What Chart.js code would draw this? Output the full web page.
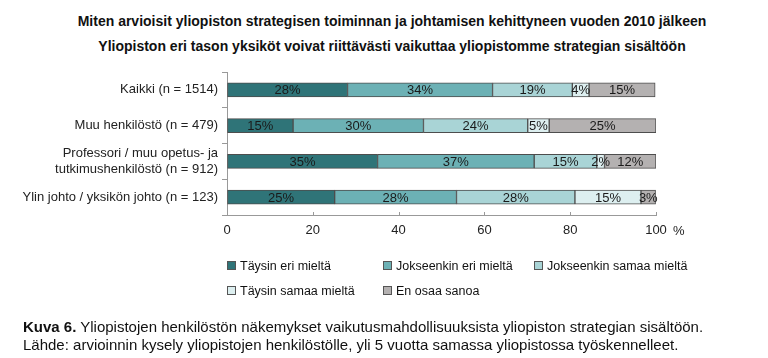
<!DOCTYPE html>
<html>
<head>
<meta charset="utf-8">
<script src="https://cdn.jsdelivr.net/npm/chart.js@4.4.0/dist/chart.umd.min.js"></script>
<style>
  body { margin: 0; background: #fff; }
  #wrap { position: relative; width: 768px; height: 358px; overflow: hidden; font-family: "Liberation Sans", Arial, sans-serif; color: #111; }
  #chart { position: absolute; left: 0; top: 0; }
  .title { position: absolute; left: 0; width: 784px; text-align: center; font-family: "Liberation Sans Narrow", "Liberation Sans", sans-serif; font-weight: bold; font-size: 14px; white-space: nowrap; }
  .caption { position: absolute; left: 23px; font-size: 15px; line-height: 17px; white-space: nowrap; }
  #legend { position: absolute; left: 227px; top: 259px; font-family: "Liberation Sans Narrow", "Liberation Sans", sans-serif; font-size: 12.5px; }
  .item { position: absolute; white-space: nowrap; line-height: 14px; }
  .box { display: inline-block; width: 7px; height: 7px; border: 1px solid #555; margin-right: 4px; vertical-align: 0px; }
</style>
</head>
<body>
<div id="wrap">
  <div class="title" style="top:13px">Miten arvioisit yliopiston strategisen toiminnan ja johtamisen kehittyneen vuoden 2010 jälkeen</div>
  <div class="title" style="top:38px">Yliopiston eri tason yksiköt voivat riittävästi vaikuttaa yliopistomme strategian sisältöön</div>
  <canvas id="chart" width="768" height="358"></canvas>
  <div id="legend"></div>
  <div class="caption" style="top:318px"><b>Kuva 6.</b> Yliopistojen henkilöstön näkemykset vaikutusmahdollisuuksista yliopiston strategian sisältöön.</div>
  <div class="caption" style="top:336px">Lähde: arvioinnin kysely yliopistojen henkilöstölle, yli 5 vuotta samassa yliopistossa työskennelleet.</div>
</div>
<script>
const groups = [
  'Kaikki (n = 1514)',
  'Muu henkilöstö (n = 479)',
  ['Professori / muu opetus- ja', 'tutkimushenkilöstö (n = 912)'],
  'Ylin johto / yksikön johto (n = 123)'
];
const answers = ['Täysin eri mieltä', 'Jokseenkin eri mieltä', 'Jokseenkin samaa mieltä', 'Täysin samaa mieltä', 'En osaa sanoa'];
const colors = ['#2f7478', '#6cb1b5', '#a9d4d6', '#ddeff0', '#b4b1b1'];

// percentages per answer, one value per group (labels are rounded)
const taysinEri = [28.1, 15.4, 35.1, 25.1];
const jokseenkinEri = [33.8, 30.4, 36.5, 28.4];
const jokseenkinSamaa = [18.6, 24.3, 14.6, 27.6];
const taysinSamaa = [3.9, 5.0, 1.8, 15.4];
const enOsaa = [15.4, 24.9, 12.0, 3.4];
const xTicks = [0, 20, 40, 60, 80, 100];

const series = [taysinEri, jokseenkinEri, jokseenkinSamaa, taysinSamaa, enOsaa];
const FONT = '"Liberation Sans", Arial, sans-serif';

const barLabels = {
  id: 'barLabels',
  afterDatasetsDraw(chart) {
    const ctx = chart.ctx;
    ctx.save();
    ctx.font = '13px ' + FONT;
    ctx.fillStyle = '#1a1a1a';
    ctx.textAlign = 'center';
    ctx.textBaseline = 'middle';
    chart.data.datasets.forEach((ds, i) => {
      chart.getDatasetMeta(i).data.forEach((bar, j) => {
        const x = (bar.x + bar.base) / 2;
        ctx.fillText(Math.round(ds.data[j]) + '%', x, bar.y + 1);
      });
    });
    // inward ticks on x axis and the % unit
    const xs = chart.scales.x;
    const bottom = chart.chartArea.bottom;
    ctx.strokeStyle = '#999';
    ctx.lineWidth = 1;
    xTicks.forEach(v => {
      const px = Math.round(xs.getPixelForValue(v)) + 0.5;
      ctx.beginPath();
      ctx.moveTo(px, bottom + 1);
      ctx.lineTo(px, bottom - 3);
      ctx.stroke();
    });
    ctx.textAlign = 'left';
    ctx.fillStyle = '#222';
    ctx.fillText('%', xs.getPixelForValue(100) + 17, bottom + 16);
    ctx.restore();
  }
};

const chart = new Chart(document.getElementById('chart'), {
  type: 'bar',
  data: {
    labels: groups,
    datasets: answers.map((a, i) => ({
      label: a,
      data: series[i],
      backgroundColor: colors[i],
      borderColor: '#4d4d4d',
      borderWidth: 1,
      borderSkipped: false,
      barThickness: 14
    }))
  },
  options: {
    indexAxis: 'y',
    responsive: false,
    animation: false,
    layout: { padding: { left: 0, right: 112, top: 72, bottom: 113 } },
    plugins: { legend: { display: false }, tooltip: { enabled: false } },
    scales: {
      x: {
        stacked: true,
        min: 0,
        max: 100,
        afterBuildTicks: s => { s.ticks = xTicks.map(v => ({ value: v })); },
        afterFit: s => { s.height = 30; },
        grid: { drawOnChartArea: false, drawTicks: false },
        border: { color: '#999' },
        ticks: { color: '#222', padding: 8, font: { size: 13, family: FONT } }
      },
      y: {
        stacked: true,
        afterFit: s => { s.width = 227; },
        grid: { drawOnChartArea: false, offset: true, tickLength: 5, color: '#999' },
        border: { color: '#999' },
        ticks: { color: '#222', padding: 4, font: { size: 13, family: FONT, lineHeight: 1.2 } }
      }
    }
  },
  plugins: [barLabels]
});

// legend built from the chart's datasets
const pos = [[0, 0], [156, 0], [307, 0], [0, 25], [156, 25]];
const legend = document.getElementById('legend');
chart.data.datasets.forEach((ds, i) => {
  const el = document.createElement('div');
  el.className = 'item';
  el.style.left = pos[i][0] + 'px';
  el.style.top = pos[i][1] + 'px';
  el.innerHTML = '<span class="box" style="background:' + ds.backgroundColor + '"></span>' + ds.label;
  legend.appendChild(el);
});
</script>
</body>
</html>
